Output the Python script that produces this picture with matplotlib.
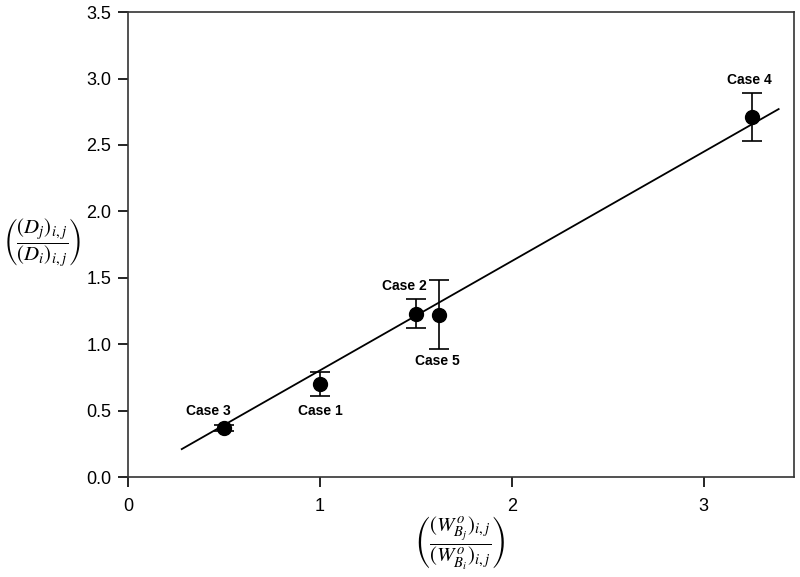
import matplotlib
matplotlib.use('Agg')
import matplotlib.pyplot as plt

plt.rcParams['font.family'] = ['Liberation Sans', 'DejaVu Sans']
plt.rcParams['mathtext.fontset'] = 'stix'

# data
x_vals = [0.5, 1.0, 1.5, 1.62, 3.25]
y_vals = [0.37, 0.70, 1.23, 1.22, 2.71]
err_lo = [0.02, 0.09, 0.11, 0.26, 0.18]
err_hi = [0.02, 0.09, 0.11, 0.26, 0.18]
case_names = ['Case 3', 'Case 1', 'Case 2', 'Case 5', 'Case 4']
label_x = [0.42, 1.0, 1.44, 1.61, 3.24]
label_y = [0.50, 0.50, 1.44, 0.87, 2.99]

# fitted line ends
line_x = [0.28, 3.39]
line_y = [0.21, 2.77]

fig = plt.figure(figsize=(8, 5.77), dpi=100)
ax = fig.add_axes([0.16, 0.1733, 0.8325, 0.8057])

ax.plot(line_x, line_y, color='black', linewidth=1.3, zorder=2)
ax.errorbar(x_vals, y_vals, yerr=[err_lo, err_hi], fmt='o', color='black',
            markersize=10, capsize=7, elinewidth=1.2, capthick=1.2, zorder=3)

for name, tx, ty in zip(case_names, label_x, label_y):
    ax.text(tx, ty, name, ha='center', va='center', fontsize=10, fontweight='bold')

ax.set_xlim(0, 3.47)
ax.set_ylim(0, 3.5)
ax.set_xticks([0, 1, 2, 3])
ax.set_yticks([0.0, 0.5, 1.0, 1.5, 2.0, 2.5, 3.0, 3.5])
ax.set_yticklabels(['0.0', '0.5', '1.0', '1.5', '2.0', '2.5', '3.0', '3.5'])
ax.tick_params(direction='out', length=7, width=1.2, labelsize=13)
ax.tick_params(axis='x', pad=8)
ax.tick_params(axis='y', pad=5)
for s in ax.spines.values():
    s.set_linewidth(1.2)
    s.set_color('#333333')

# axis labels
fig.text(42 / 800, 1 - 243 / 577,
         r'$\left(\dfrac{(D_j)_{i,j}}{(D_i)_{i,j}}\right)$',
         ha='center', va='center', fontsize=15)
fig.text(460 / 800, 1 - 543 / 577,
         r'$\left(\dfrac{(W^o_{B_j})_{i,j}}{(W^o_{B_i})_{i,j}}\right)$',
         ha='center', va='center', fontsize=15)

fig.savefig('out.png', dpi=100)
